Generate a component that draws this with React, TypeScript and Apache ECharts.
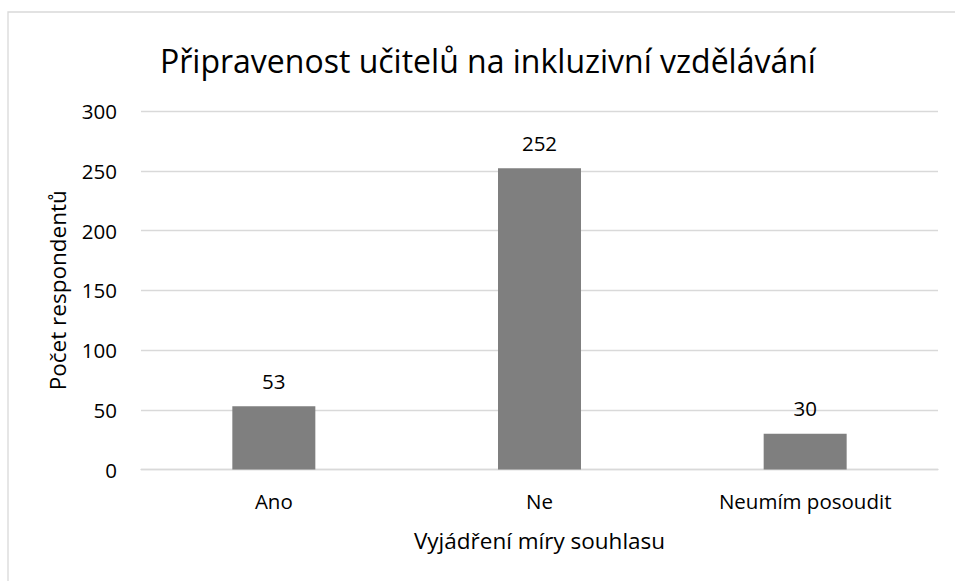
import React, { useEffect, useRef } from "react";
import * as echarts from "echarts";

const categories = ["Ano", "Ne", "Neumím posoudit"];
const values = [53, 252, 30];
const titleText = "Připravenost učitelů na inkluzivní vzdělávání";
const xAxisName = "Vyjádření míry souhlasu";
const yAxisName = "Počet respondentů";

const FONT = "'Open Sans', 'Noto Sans', sans-serif";

export default function App() {
  const ref = useRef<HTMLDivElement>(null);
  useEffect(() => {
    if (!ref.current) return;
    const chart = echarts.init(ref.current, null, { renderer: "svg" });
    chart.setOption({
      animation: false,
      backgroundColor: "#ffffff",
      textStyle: { fontFamily: FONT },
      title: {
        text: titleText,
        left: 155,
        top: 34,
        textStyle: { fontFamily: FONT, fontSize: 32, fontWeight: "normal", color: "#000000", lineHeight: 42 },
      },
      graphic: [
        {
          type: "rect",
          shape: { x: 8, y: 12, width: 1000, height: 700 },
          style: { fill: "none", stroke: "#d9d9d9", lineWidth: 1.3 },
          silent: true,
        },
      ],
      grid: { left: 141, right: 17, top: 111, bottom: 111.5 },
      xAxis: {
        type: "category",
        data: categories,
        axisLine: { show: true, lineStyle: { color: "#d9d9d9", width: 1.3 } },
        axisTick: { show: false },
        axisLabel: { fontFamily: FONT, fontSize: 20.5, color: "#000000", margin: 21 },
        name: xAxisName,
        nameLocation: "middle",
        nameGap: 59,
        nameTextStyle: { fontFamily: FONT, fontSize: 22.5, color: "#000000" },
      },
      yAxis: {
        type: "value",
        min: 0,
        max: 300,
        interval: 50,
        axisLine: { show: false },
        axisTick: { show: false },
        splitLine: { lineStyle: { color: "#d9d9d9", width: 1.3 } },
        axisLabel: { fontFamily: FONT, fontSize: 20.5, color: "#000000", margin: 24 },
        name: yAxisName,
        nameLocation: "middle",
        nameGap: 72,
        nameRotate: 90,
        nameTextStyle: { fontFamily: FONT, fontSize: 22.5, color: "#000000" },
      },
      series: [
        {
          type: "bar",
          data: values,
          barWidth: 83,
          itemStyle: { color: "#7f7f7f" },
          label: {
            show: true,
            position: "top",
            distance: 15,
            fontFamily: FONT,
            fontSize: 20.5,
            color: "#000000",
          },
        },
      ],
    });
    return () => chart.dispose();
  }, []);
  return (
    <div
      ref={ref}
      style={{ position: "fixed", left: 0, top: 0, width: 955, height: 581 }}
    />
  );
}
